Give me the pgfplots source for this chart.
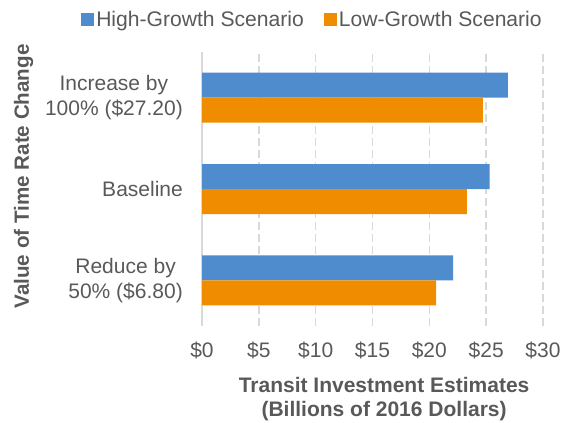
\documentclass[border=0pt]{standalone}
\usepackage{pgfplots}
\pgfplotsset{compat=1.18}
\usepackage{fontspec}
\setmainfont{Liberation Sans}
\definecolor{hg}{HTML}{4F8CCE}
\definecolor{lg}{HTML}{EF8C00}
\definecolor{txt}{HTML}{595959}
\definecolor{gridc}{HTML}{D9D9D9}
\begin{document}
\begin{tikzpicture}
\path[use as bounding box] (0,0) rectangle (567bp,-423bp);
\begin{axis}[
  at={(202bp,-326bp)}, anchor=south west,
  scale only axis, width=341bp, height=274bp,
  xbar, bar width=25bp,
  xmin=0, xmax=30, ymin=-0.5, ymax=2.5,
  xtick={0,5,10,15,20,25,30},
  xticklabels={\$0,\$5,\$10,\$15,\$20,\$25,\$30},
  ytick={0,1,2},
  yticklabels={{Reduce by\\50\% (\$6.80)},{Baseline},{Increase by\\100\% (\$27.20)}},
  yticklabel style={align=center, anchor=east, xshift=-19bp, inner sep=0pt, font=\fontsize{21bp}{25bp}\selectfont, text=txt},
  xticklabel style={anchor=base, yshift=-31bp, inner sep=0pt, font=\fontsize{21bp}{25bp}\selectfont, text=txt},
  major tick length=0,
  xmajorgrids,
  grid style={gridc, line width=1.5bp, dash pattern=on 8bp off 4bp},
  axis y line*=left, axis x line*=bottom,
  x axis line style={draw=none},
  y axis line style={gridc, line width=1.5bp, -},
  xlabel={Transit Investment Estimates\\(Billions of 2016 Dollars)},
  xlabel style={at={(axis description cs:0.534,-0.266)}, anchor=center, align=center, font=\bfseries\fontsize{21bp}{23.5bp}\selectfont, text=txt},
  ylabel={Value of Time Rate Change},
  ylabel style={at={(axis description cs:-0.523,0.546)}, anchor=center, font=\bfseries\fontsize{20.6bp}{23bp}\selectfont, text=txt},
  legend style={at={(axis description cs:0.324,1.117)}, anchor=center, draw=none, fill=none,
    font=\fontsize{21.1bp}{25bp}\selectfont, text=txt,
    nodes={inner sep=2bp},
    /tikz/every even column/.append style={column sep=18bp}},
  legend columns=2,
  legend image code/.code={\fill[#1] (0bp,-6.5bp) rectangle (13bp,6.5bp);},
]
\addplot[fill=hg, draw=none, bar shift=12.5bp] coordinates {(22.1,0) (25.3,1) (26.9,2)};
\addplot[fill=lg, draw=none, bar shift=-12.5bp] coordinates {(20.6,0) (23.3,1) (24.7,2)};
\legend{High-Growth Scenario, Low-Growth Scenario}
\end{axis}
\end{tikzpicture}
\end{document}
